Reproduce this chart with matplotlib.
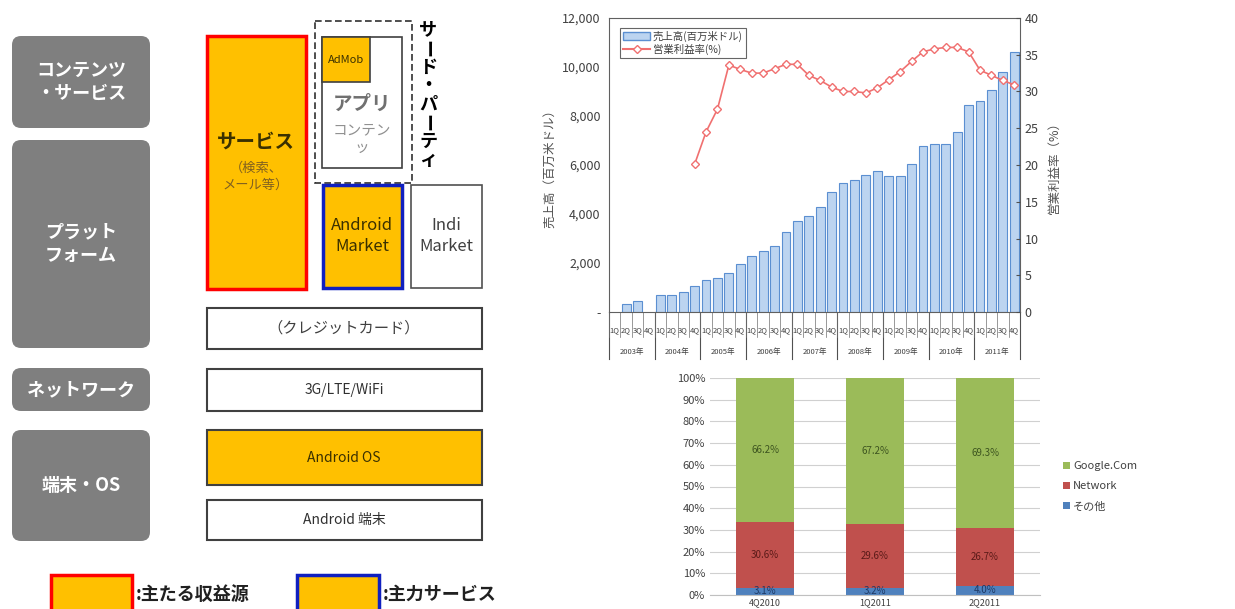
import matplotlib.pyplot as plt
import numpy as np
from matplotlib.patches import Rectangle, FancyBboxPatch
from matplotlib.lines import Line2D
from matplotlib.transforms import blended_transform_factory

plt.rcParams['font.family'] = ['Noto Sans CJK JP', 'DejaVu Sans']

# --- data: quarterly revenue / operating margin ---
years = ["2003年", "2004年", "2005年", "2006年", "2007年", "2008年", "2009年", "2010年", "2011年"]
quarters = ["1Q", "2Q", "3Q", "4Q"]
revenue = [np.nan, 340, 430, np.nan,
           680, 700, 810, 1070,
           1290, 1390, 1590, 1950,
           2290, 2510, 2680, 3250,
           3720, 3930, 4270, 4880,
           5280, 5400, 5600, 5740,
           5560, 5560, 6040, 6760,
           6870, 6870, 7330, 8450,
           8600, 9050, 9800, 10600]
margin = [np.nan] * 7 + [20.1,
          24.5, 27.6, 33.6, 33.0,
          32.5, 32.5, 33.1, 33.7,
          33.7, 32.2, 31.5, 30.6,
          30.0, 30.0, 29.8, 30.5,
          31.6, 32.7, 34.1, 35.4,
          35.8, 36.0, 36.0, 35.4,
          32.9, 32.2, 31.5, 30.9]

# --- data: revenue mix ---
mix_periods = ["4Q2010", "1Q2011", "2Q2011"]
mix_other = [3.1, 3.2, 4.0]
mix_network = [30.6, 29.6, 26.7]
mix_google = [66.2, 67.2, 69.3]

W, H = 1235, 609
fig = plt.figure(figsize=(W / 100, H / 100), dpi=100)


def fig_rect(x0, y0, x1, y1):
    return [x0 / W, 1 - y1 / H, (x1 - x0) / W, (y1 - y0) / H]


# ================= left diagram =================
dax = fig.add_axes([0, 0, 540 / W, 1])
dax.set_xlim(0, 540)
dax.set_ylim(H, 0)
dax.set_axis_off()

ORANGE = '#ffc000'
GRAY = '#7f7f7f'


def gbox(x0, y0, x1, y1, text, size=13):
    dax.add_patch(FancyBboxPatch((x0, y0), x1 - x0, y1 - y0,
                                 boxstyle="round,pad=0,rounding_size=9",
                                 fc=GRAY, ec='none'))
    dax.text((x0 + x1) / 2, (y0 + y1) / 2, text, ha='center', va='center',
             color='white', fontsize=size, fontweight='bold', linespacing=1.3)


def box(x0, y0, x1, y1, fc='white', ec='#404040', lw=1.5, ls='-'):
    dax.add_patch(Rectangle((x0, y0), x1 - x0, y1 - y0, fc=fc, ec=ec, lw=lw, ls=ls))


gbox(12, 36, 150, 128, "コンテンツ\n・サービス")
gbox(12, 140, 150, 348, "プラット\nフォーム")
gbox(12, 368, 150, 411, "ネットワーク")
gbox(12, 430, 150, 541, "端末・OS")

# service column
box(207, 36, 306, 289, fc=ORANGE, ec='#ff0000', lw=2.5)
dax.text(256, 142, "サービス", ha='center', va='center', fontsize=14, fontweight='bold', color='#3a3000')
dax.text(256, 177, "（検索、\nメール等）", ha='center', va='center', fontsize=9.5, color='#806020',
         linespacing=1.4)

# third party
box(315, 21, 412, 183, fc='none', ec='#303030', lw=1.2, ls=(0, (4, 2)))
box(322, 37, 402, 168, ec='#404040', lw=1.2)
box(322, 37, 370, 82, fc=ORANGE, ec='#404040', lw=1.2)
dax.text(346, 60, "AdMob", ha='center', va='center', fontsize=8, color='#3a3000')
dax.text(362, 104, "アプリ", ha='center', va='center', fontsize=14, fontweight='bold', color='#707070')
dax.text(362, 139, "コンテン\nッ", ha='center', va='center', fontsize=10.5, color='#909090',
         linespacing=1.3)
party = "サード・パーティ"
for i, ch in enumerate(party):
    dax.text(428, 30 + i * 18.5, ch, ha='center', va='center', fontsize=13, fontweight='bold',
             color='black', rotation=-90 if ch == 'ー' else 0)

box(323, 185, 402, 288, fc=ORANGE, ec='#1020c0', lw=2.5)
dax.text(362, 236, "Android\nMarket", ha='center', va='center', fontsize=12, color='#3a3000',
         linespacing=1.25)
box(411, 185, 482, 288, ec='#505050', lw=1.2)
dax.text(446, 236, "Indi\nMarket", ha='center', va='center', fontsize=12, color='#404040',
         linespacing=1.25)

box(207, 308, 482, 349)
dax.text(344, 328, "（クレジットカード）", ha='center', va='center', fontsize=11, color='#404040')
box(207, 369, 482, 411)
dax.text(344, 390, "3G/LTE/WiFi", ha='center', va='center', fontsize=10, color='#303030')
box(207, 430, 482, 485, fc=ORANGE)
dax.text(344, 458, "Android OS", ha='center', va='center', fontsize=10, color='#3a3000')
box(207, 500, 482, 540)
dax.text(344, 520, "Android 端末", ha='center', va='center', fontsize=10, color='#303030')

# legend of diagram
box(51, 575, 132, 612, fc=ORANGE, ec='#ff0000', lw=2.5)
dax.text(136, 594, ":主たる収益源", ha='left', va='center', fontsize=13, fontweight='bold', color='#202020')
box(297, 575, 379, 612, fc=ORANGE, ec='#1020c0', lw=2.5)
dax.text(383, 594, ":主力サービス", ha='left', va='center', fontsize=13, fontweight='bold', color='#202020')

# ================= top right: revenue & margin =================
ax = fig.add_axes(fig_rect(609, 18, 1020, 312))
x = np.arange(len(revenue))
ax.bar(x, revenue, width=0.78, color='#bcd4f0', edgecolor='#5b8fd1', linewidth=0.8, zorder=2)
ax.set_xlim(-0.5, len(revenue) - 0.5)
ax.set_ylim(0, 12000)
ax.set_yticks(np.arange(0, 12001, 2000))
ax.set_yticklabels(["-"] + [f"{v:,}" for v in range(2000, 12001, 2000)], fontsize=9, color='#404040')
ax.set_ylabel("売上高（百万米ドル）", fontsize=9, color='#505050', labelpad=4)
ax.tick_params(axis='y', length=0, pad=6)
ax.set_xticks(x)
ax.set_xticklabels(quarters * len(years), fontsize=5.5, color='#404040')
ax.tick_params(axis='x', length=0, pad=10)
for s in ax.spines.values():
    s.set_color('#606060')
    s.set_linewidth(0.8)

trans = blended_transform_factory(ax.transData, ax.transAxes)
for k in range(len(years) + 1):
    xs = k * 4 - 0.5
    ax.plot([xs, xs], [0, -0.16], color='#505050', lw=0.8, transform=trans, clip_on=False)
for k in range(len(revenue)):
    ax.plot([k - 0.5, k - 0.5], [0, -0.085], color='#707070', lw=0.5, transform=trans, clip_on=False)
for k, yr in enumerate(years):
    ax.text(k * 4 + 1.5, -0.135, yr, transform=trans, ha='center', va='center',
            fontsize=5.5, color='#404040')

ax2 = ax.twinx()
ax2.plot(x, margin, color='#f07070', lw=1.2, marker='D', markersize=4.5,
         markerfacecolor='white', markeredgecolor='#f07070', markeredgewidth=1.0, zorder=3)
ax2.set_ylim(0, 40)
ax2.set_yticks(np.arange(0, 41, 5))
ax2.tick_params(axis='y', labelsize=9, labelcolor='#404040', direction='in', length=3, color='#505050')
ax2.set_ylabel("営業利益率（%）", fontsize=9, color='#505050', rotation=90, labelpad=6)
for s in ax2.spines.values():
    s.set_visible(False)

handles = [Rectangle((0, 0), 1, 1, fc='#bcd4f0', ec='#5b8fd1'),
           Line2D([], [], color='#f07070', marker='D', markersize=4, markerfacecolor='white')]
leg = ax2.legend(handles, ["売上高(百万米ドル)", "営業利益率(%)"], loc='upper left',
                 bbox_to_anchor=(0.015, 0.985), fontsize=7.5, frameon=True, fancybox=False,
                 borderpad=0.3, labelspacing=0.2, handlelength=2.5, handletextpad=0.3)
leg.get_frame().set_edgecolor('#404040')
leg.get_frame().set_linewidth(0.8)
for t in leg.get_texts():
    t.set_color('#404040')

# ================= bottom right: revenue mix =================
bx = fig.add_axes(fig_rect(710, 378, 1040, 595))
p = np.arange(len(mix_periods))
bw = 0.53
bx.bar(p, mix_other, width=bw, color='#4f81bd', label='その他', zorder=2)
bx.bar(p, mix_network, bottom=mix_other, width=bw, color='#c0504d', label='Network', zorder=2)
bottom2 = np.array(mix_other) + np.array(mix_network)
bx.bar(p, mix_google, bottom=bottom2, width=bw, color='#9bbb59', label='Google.Com', zorder=2)
for i in p:
    bx.text(i, mix_other[i] / 2 + 0.3, f"{mix_other[i]:.1f}%", ha='center', va='center',
            fontsize=7, color='#1f3a66')
    bx.text(i, mix_other[i] + mix_network[i] / 2, f"{mix_network[i]:.1f}%", ha='center',
            va='center', fontsize=7, color='#5a1a18')
    bx.text(i, bottom2[i] + mix_google[i] / 2, f"{mix_google[i]:.1f}%", ha='center',
            va='center', fontsize=7, color='#3d5420')
bx.set_xlim(-0.5, 2.5)
bx.set_ylim(0, 100)
bx.set_yticks(np.arange(0, 101, 10))
bx.set_yticklabels([f"{v}%" for v in range(0, 101, 10)], fontsize=8, color='#404040')
bx.yaxis.grid(True, color='#d0d0d0', lw=0.8, zorder=0)
bx.tick_params(axis='y', length=0)
bx.set_xticks(p)
bx.set_xticklabels(mix_periods, fontsize=6.5, color='#404040')
bx.tick_params(axis='x', length=0, pad=2)
for name, s in bx.spines.items():
    s.set_visible(name == 'bottom')
bx.spines['bottom'].set_color('#c0c0c0')
h, l = bx.get_legend_handles_labels()
bx.legend(h[::-1], l[::-1], loc='center left', bbox_to_anchor=(1.04, 0.5), frameon=False,
          fontsize=8, handlelength=0.6, handleheight=0.6, handletextpad=0.3, labelspacing=0.9,
          labelcolor='#404040')

fig.savefig("out.png", dpi=100)
